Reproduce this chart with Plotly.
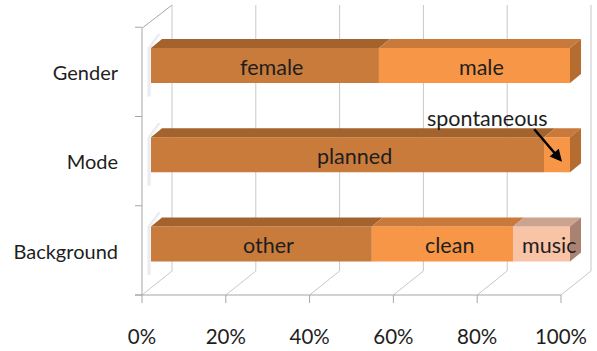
import plotly.graph_objects as go

# ---- data ----
categories = ["Background", "Mode", "Gender"]          # bottom -> top
seg_labels = [["other", "clean", "music"],
              ["planned", "spontaneous"],
              ["female", "male"]]
seg_values = [[52.7, 33.7, 13.6],
              [93.8, 6.2],
              [54.4, 45.6]]
x_ticks = [0, 20, 40, 60, 80, 100]
x_ticktext = ["0%", "20%", "40%", "60%", "80%", "100%"]

# ---- styling / geometry ----
W, H = 597, 351
PX = 4.19            # px per percent
BAR_X0 = 151         # px of 0% on bar front face
CAT_PX = 89.25       # px per category
CAT0_PY = 244        # px of category 0 centre (bar front)
BAR_W = 0.392
FACE_DX, FACE_DY = 11 / PX, 9 / CAT_PX   # bar depth in data units
FRONT_X0 = 142
FLOOR_PY = 295
DEPTH_DX, DEPTH_DY = 30, 24

front_cols = ["#C97B3C", "#F79646", "#F9C3A6"]
top_cols = ["#A4622C", "#C97A3B", "#CBA38F"]
end_cols = ["#9E5F2A", "#B56C31", "#AA8272"]
FONT = "Lato"
TXT = "#1E1E1E"

def px2x(px):
    return (px - BAR_X0) / PX

def py2p(py):
    return 1 - py / H

xr = [px2x(0), px2x(W)]
y_hi = CAT0_PY / CAT_PX
y_lo = y_hi - H / CAT_PX

fig = go.Figure()

# front faces (bars)
for s in range(3):
    ys, xs, bases = [], [], []
    for i, vals in enumerate(seg_values):
        if s < len(vals):
            ys.append(i)
            xs.append(vals[s])
            bases.append(sum(vals[:s]))
    fig.add_trace(go.Bar(y=ys, x=xs, base=bases, orientation="h", width=BAR_W,
                         marker=dict(color=front_cols[s], line=dict(width=0)),
                         hoverinfo="skip"))

# top faces, end faces and soft left shadow
for i, vals in enumerate(seg_values):
    yt = i + BAR_W / 2
    yb = i - BAR_W / 2
    cum = 0
    for s, v in enumerate(vals):
        x0, x1 = cum, cum + v
        fig.add_trace(go.Scatter(
            x=[x0, x1, x1 + FACE_DX, x0 + FACE_DX, x0],
            y=[yt, yt, yt + FACE_DY, yt + FACE_DY, yt],
            fill="toself", fillcolor=top_cols[s], mode="lines",
            line=dict(width=0), hoverinfo="skip"))
        cum = x1
    s_last = len(vals) - 1
    fig.add_trace(go.Scatter(
        x=[cum, cum + FACE_DX, cum + FACE_DX, cum, cum],
        y=[yb, yb + FACE_DY, yt + FACE_DY, yt, yb],
        fill="toself", fillcolor=end_cols[s_last], mode="lines",
        line=dict(width=0), hoverinfo="skip"))
    # soft shadow at left end
    d = 3 / PX
    fig.add_trace(go.Scatter(
        x=[-1.2 * d, -0.1 * d, -0.1 * d, FACE_DX * 0.9, FACE_DX * 0.9 - d, -1.2 * d, -1.2 * d],
        y=[yb - 0.15, yb - 0.15, yt, yt + FACE_DY + 0.06, yt + FACE_DY + 0.06, yt, yb - 0.15],
        fill="toself", fillcolor="rgba(160,170,195,0.22)", mode="lines",
        line=dict(width=0), hoverinfo="skip"))

# labels inside bars
ann = []
for i, vals in enumerate(seg_values):
    cum = 0
    for s, v in enumerate(vals):
        lab = seg_labels[i][s]
        if lab != "spontaneous":
            ann.append(dict(x=cum + v / 2, y=i, text=lab, showarrow=False, xshift=7, yshift=-1,
                            font=dict(family=FONT, size=21.5, color=TXT)))
        else:
            cx = cum + v / 2
            ann.append(dict(x=cx, y=i, text=lab, showarrow=False, xshift=-70, yshift=37,
                            font=dict(family=FONT, size=21.5, color=TXT)))
            ann.append(dict(x=cx, y=i, text="", showarrow=True, xshift=5, yshift=-7,
                            ax=-29, ay=-34, arrowhead=2, arrowsize=1, arrowwidth=2.4,
                            arrowcolor="#000000", standoff=0, startstandoff=0))
        cum += v

# 3D frame (axes decoration)
shapes = []
grid_c = "#C8C8C8"
axis_c = "#A6A6A6"
TOP_PY = 5
for k in range(6):
    bx = FRONT_X0 + DEPTH_DX + k * 20 * PX
    fx = FRONT_X0 + k * 20 * PX
    shapes.append(dict(type="line", xref="x", yref="paper", x0=px2x(bx), x1=px2x(bx),
                       y0=py2p(TOP_PY), y1=py2p(FLOOR_PY - DEPTH_DY),
                       line=dict(color=grid_c, width=1), layer="below"))
    shapes.append(dict(type="line", xref="x", yref="paper", x0=px2x(fx), x1=px2x(bx),
                       y0=py2p(FLOOR_PY), y1=py2p(FLOOR_PY - DEPTH_DY),
                       line=dict(color=grid_c, width=1), layer="below"))
    shapes.append(dict(type="line", xref="x", yref="paper", x0=px2x(fx), x1=px2x(fx),
                       y0=py2p(FLOOR_PY), y1=py2p(FLOOR_PY + 8),
                       line=dict(color=axis_c, width=1), layer="below"))
# floor front line
shapes.append(dict(type="line", xref="x", yref="paper", x0=px2x(FRONT_X0 - 7),
                   x1=px2x(FRONT_X0 + 100 * PX), y0=py2p(FLOOR_PY), y1=py2p(FLOOR_PY),
                   line=dict(color=axis_c, width=1), layer="below"))
# left wall
LEFT_TOP = FLOOR_PY - 3 * CAT_PX + 1
shapes.append(dict(type="line", xref="x", yref="paper", x0=px2x(FRONT_X0), x1=px2x(FRONT_X0),
                   y0=py2p(LEFT_TOP), y1=py2p(FLOOR_PY),
                   line=dict(color=axis_c, width=1), layer="below"))
shapes.append(dict(type="line", xref="x", yref="paper", x0=px2x(FRONT_X0), x1=px2x(FRONT_X0 + DEPTH_DX),
                   y0=py2p(LEFT_TOP), y1=py2p(TOP_PY),
                   line=dict(color=axis_c, width=1), layer="below"))
for j in range(4):
    ty = FLOOR_PY - j * CAT_PX
    shapes.append(dict(type="line", xref="x", yref="paper", x0=px2x(FRONT_X0 - 7), x1=px2x(FRONT_X0),
                       y0=py2p(ty), y1=py2p(ty),
                       line=dict(color=axis_c, width=1), layer="below"))

fig.update_layout(
    width=W, height=H, margin=dict(l=0, r=0, t=0, b=0),
    paper_bgcolor="white", plot_bgcolor="white",
    barmode="overlay", showlegend=False,
    shapes=shapes, annotations=ann,
    font=dict(family=FONT, size=20, color=TXT),
    xaxis=dict(range=xr, visible=False, fixedrange=True),
    yaxis=dict(range=[y_lo, y_hi], visible=False, fixedrange=True),
    xaxis2=dict(overlaying="x", anchor="free", position=py2p(FLOOR_PY),
                range=[(0 - FRONT_X0) / PX, (W - FRONT_X0) / PX],
                tickvals=x_ticks, ticktext=x_ticktext, showgrid=False, zeroline=False,
                showline=False, ticks="", ticklabelstandoff=27,
                tickfont=dict(family=FONT, size=20.5, color=TXT)),
    yaxis2=dict(overlaying="y", anchor="free", position=FRONT_X0 / W, side="left",
                range=[y_lo + 7.5 / CAT_PX, y_hi + 7.5 / CAT_PX],
                tickvals=list(range(len(categories))), ticktext=categories,
                showgrid=False, zeroline=False, showline=False, ticks="",
                ticklabelstandoff=24,
                tickfont=dict(family=FONT, size=20, color=TXT)),
)
# dummy invisible traces to activate the secondary axes
fig.add_trace(go.Scatter(x=[0], y=[0], xaxis="x2", yaxis="y", mode="markers",
                         marker=dict(opacity=0), hoverinfo="skip"))
fig.add_trace(go.Scatter(x=[0], y=[0], xaxis="x", yaxis="y2", mode="markers",
                         marker=dict(opacity=0), hoverinfo="skip"))

fig.write_html("out.html")
